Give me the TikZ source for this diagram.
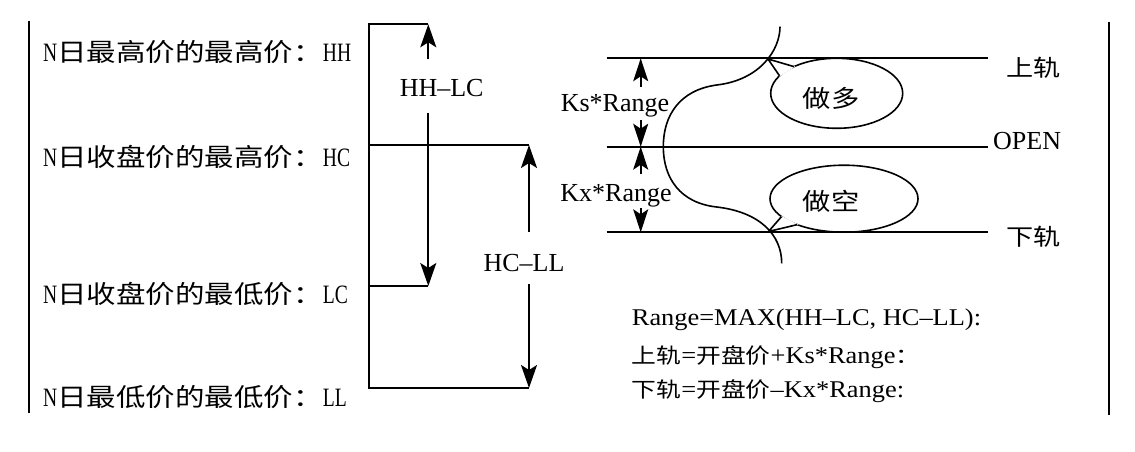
\documentclass[tikz,border=0pt]{standalone}
\usepackage{fontspec}
\setmainfont{Liberation Serif}
\newfontfamily\latn{Liberation Serif}[FakeStretch=0.74]
\newfontfamily\latw{Liberation Serif}[FakeStretch=1.1]
\newfontfamily\cjk{Noto Sans CJK SC}[FakeStretch=1.18]
\newcommand\myLat[1]{{\fontsize{26.5}{30}\selectfont\latn #1}}
\usetikzlibrary{arrows.meta,shapes.geometric}
\begin{document}
\begin{tikzpicture}[x=1pt,y=-1pt,
  brk/.style={line width=2pt},
  arr/.style={line width=2pt,-{Stealth[length=23pt,width=16pt,inset=5pt]}},
  rarr/.style={line width=1.6pt,-{Stealth[length=23pt,width=15pt,inset=5pt]}},
  rail/.style={line width=2pt},
  frame/.style={line width=2.2pt},
  curv/.style={line width=1.6pt},
  lbl/.style={inner sep=0pt,anchor=west,font=\fontsize{25}{30}\selectfont},
  mlbl/.style={inner sep=0pt,font=\fontsize{26}{30}\selectfont},
  rlbl/.style={inner sep=0pt,font=\fontsize{23}{28}\selectfont\cjk},
  blbl/.style={inner sep=0pt,anchor=base west,font=\fontsize{24}{28}\selectfont},
  bub/.style={draw,ellipse,line width=1.6pt,inner sep=0pt,outer sep=0pt},
  bubtxt/.style={inner sep=0pt,font=\fontsize{24}{28}\selectfont\cjk}
]
\useasboundingbox[fill=white] (0,0) rectangle (1135,452);

% outer frame lines
\coordinate (FLt) at (29.3,21);
\coordinate (FLb) at (29.3,413);
\coordinate (FRt) at (1108.7,21.7);
\coordinate (FRb) at (1108.7,415);
\draw[frame] (FLt) -- (FLb);
\draw[frame] (FRt) -- (FRb);

% left labels
\node[lbl] (hh) at (43,51.7) {\myLat{N}{\cjk 日最高价的最高价：}\myLat{HH}};
\node[lbl] (hc) at (43,157) {\myLat{N}{\cjk 日收盘价的最高价：}\myLat{HC}};
\node[lbl] (lc) at (43,294) {\myLat{N}{\cjk 日收盘价的最低价：}\myLat{LC}};
\node[lbl] (ll) at (43,397) {\myLat{N}{\cjk 日最低价的最低价：}\myLat{LL}};

% brackets
\coordinate (P1) at (369,24.3);
\coordinate (T1) at (428.3,24.3);
\coordinate (S1a) at (428.3,59.3);
\coordinate (S1b) at (428.3,112.7);
\coordinate (T1b) at (428.3,286);
\coordinate (L1) at (369,286);
\coordinate (H2) at (369,145);
\coordinate (T2) at (529,145);
\coordinate (S2a) at (529,231.7);
\coordinate (S2b) at (529,284);
\coordinate (T2b) at (529,388);
\coordinate (L2) at (369,388);
\draw[brk] (T1) -- (P1) -- (L2) -- (T2b);
\draw[brk] (H2) -- (T2);
\draw[brk] (L1) -- (T1b);
\draw[arr] (S1a) -- (T1);
\draw[arr] (S1b) -- (T1b);
\draw[arr] (S2a) -- (T2);
\draw[arr] (S2b) -- (T2b);
\node[mlbl] (hhlc) at (441.7,88.5) {HH–LC};
\node[mlbl] (hcll) at (524,263) {HC–LL};

% bubbles
\node[bub,minimum width=132,minimum height=70] (duo) at (836.7,93.3) {};
\node[bub,minimum width=148,minimum height=67] (kong) at (844,198.7) {};
\coordinate (tipU) at (768,59);
\coordinate (tipD) at (768.5,231.5);
\fill[white,draw=white,line width=1pt] (tipU) -- (duo.148) -- (duo.163) -- cycle;
\draw[curv,line join=miter] (duo.148) -- (tipU) -- (duo.163);
\fill[white,draw=white,line width=1pt] (tipD) -- (kong.196) -- (kong.209) -- cycle;
\draw[curv,line join=miter] (kong.196) -- (tipD) -- (kong.209);
\node[bubtxt] (duot) at (831,98) {做多};
\node[bubtxt] (kongt) at (831,201.7) {做空};

% rails
\coordinate (UL) at (606.7,58.3);
\coordinate (UR) at (987.7,58.3);
\coordinate (OL) at (606.7,146.7);
\coordinate (OR) at (987.7,146.7);
\coordinate (DL) at (606.7,232.3);
\coordinate (DR) at (987.7,232.3);
\draw[rail] (UL) -- (UR);
\draw[rail] (OL) -- (OR);
\draw[rail] (DL) -- (DR);
\node[rlbl] (shang) at (1033.3,68) {上轨};
\node[inner sep=0pt,anchor=base west,font=\fontsize{26}{30}\selectfont] (open) at (993,149) {OPEN};
\node[rlbl] (xia) at (1033.3,236.7) {下轨};

% dimension arrows
\coordinate (A1s) at (640.7,86.7);
\coordinate (A1t) at (640.7,58.3);
\coordinate (A2s) at (640.7,120);
\coordinate (A2t) at (640.7,146.7);
\coordinate (A3s) at (640.7,174);
\coordinate (A3t) at (640.7,146.7);
\coordinate (A4s) at (640.7,208);
\coordinate (A4t) at (640.7,232.3);
\draw[rarr] (A1s) -- (A1t);
\draw[rarr] (A2s) -- (A2t);
\draw[rarr] (A3s) -- (A3t);
\draw[rarr] (A4s) -- (A4t);
\node[inner sep=0pt,anchor=base,font=\fontsize{26}{30}\selectfont] (ks) at (615,111.7) {Ks*Range};
\node[inner sep=0pt,anchor=base,font=\fontsize{26}{30}\selectfont] (kx) at (616,201.7) {Kx*Range};

% price curve
\draw[curv] (780,26.7) .. controls (780,50) and (760,80) .. (716.7,85)
  .. controls (680,90) and (663.3,115) .. (663.3,146.7)
  .. controls (663.3,178) and (680,203) .. (716.7,207)
  .. controls (760,212) and (781.7,235) .. (781.7,263.3);

% formulas
\node[blbl] (f1) at (631.7,325) {{\latw Range=MAX(HH–LC, HC–LL):}};
\node[blbl] (f2) at (631.7,363) {{\fontsize{21}{26}\selectfont\cjk 上轨}{\latw =}{\fontsize{21}{26}\selectfont\cjk 开盘价}{\latw +Ks*Range}{\fontsize{21}{26}\selectfont\cjk ：}};
\node[blbl] (f3) at (631.7,397) {{\fontsize{21}{26}\selectfont\cjk 下轨}{\latw =}{\fontsize{21}{26}\selectfont\cjk 开盘价}{\latw –Kx*Range:}};
\end{tikzpicture}
\end{document}
